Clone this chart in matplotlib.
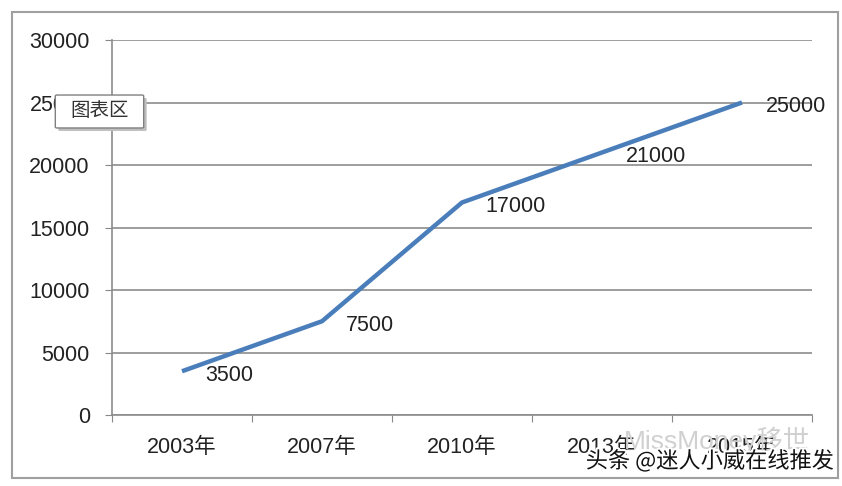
import matplotlib
matplotlib.use("Agg")
import matplotlib.pyplot as plt
from matplotlib.patches import Rectangle, FancyBboxPatch
import matplotlib.patheffects as pe

plt.rcParams['font.family'] = ['Liberation Sans', 'Noto Sans CJK SC', 'DejaVu Sans']

categories = ['2003年', '2007年', '2010年', '2013年', '2015年']
values = [3500, 7500, 17000, 21000, 25000]
yticks = [0, 5000, 10000, 15000, 20000, 25000, 30000]

fig = plt.figure(figsize=(8.42, 4.86), dpi=100)
ax = fig.add_axes([112/842, 1-415/486, 700/842, 375/486])

x = [i + 0.5 for i in range(len(categories))]
ax.plot(x, values, color='#4a7ebb', lw=3.2, solid_capstyle='butt', zorder=3)
for xi, v in zip(x, values):
    ax.annotate(f'{v}', (xi, v), xytext=(17, -3), textcoords='offset points',
                ha='left', va='center', fontsize=15.5, color='#222222')

ax.set_xlim(0, len(categories))
ax.set_ylim(0, 30000)
ax.set_yticks(yticks)
ax.set_yticklabels([str(t) for t in yticks], fontsize=15.5, color='#222222')
ax.set_xticks(range(len(categories) + 1))
ax.set_xticklabels([])
ax.set_xticks(x, minor=True)
ax.set_xticklabels(categories, minor=True, fontsize=15.5, color='#222222')
ax.tick_params(axis='x', which='minor', length=0, pad=16)
ax.tick_params(axis='x', which='major', length=5, color='#888888', direction='out')
ax.tick_params(axis='y', length=5, color='#888888', direction='out', pad=11)
ax.grid(axis='y', color='#8c8c8c', lw=1.2)
ax.set_axisbelow(True)
for s in ['top', 'right']:
    ax.spines[s].set_visible(False)
for s in ['left', 'bottom']:
    ax.spines[s].set_color('#8c8c8c')
    ax.spines[s].set_linewidth(1.2)

# outer chart border
fig.patches.append(Rectangle((12/842, 1-478/486), 826/842, 466/486, transform=fig.transFigure,
                             fill=False, ec='#a0a0a0', lw=1.5))

# tooltip
fig.patches.append(FancyBboxPatch((60/842, 1-130/486), 85/842, 31/486, transform=fig.transFigure,
                                  boxstyle='round,pad=0.002', fc='#bfbfbf', ec='none', zorder=5))
fig.patches.append(FancyBboxPatch((57/842, 1-127/486), 85/842, 31/486, transform=fig.transFigure,
                                  boxstyle='round,pad=0.002', fc='white', ec='#808080', lw=1, zorder=6))
fig.text(99.5/842, 1-111/486, '图表区', ha='center', va='center', fontsize=14,
         color='#333333', family=['Noto Sans CJK SC'], zorder=7)

# watermark
fig.text(717/842, 1-440/486, 'MissMoney移世', ha='center', va='center', fontsize=19,
         color='#d0d0d0', family=['Liberation Sans', 'Noto Sans CJK SC'], zorder=8)
fig.text(710/842, 1-461/486, '头条 @迷人小威在线推发', ha='center', va='center', fontsize=16,
         color='#111111', family=['Noto Sans CJK SC', 'DejaVu Sans'], zorder=9,
         path_effects=[pe.withStroke(linewidth=3, foreground='white')])

fig.savefig('out.png', dpi=100)
